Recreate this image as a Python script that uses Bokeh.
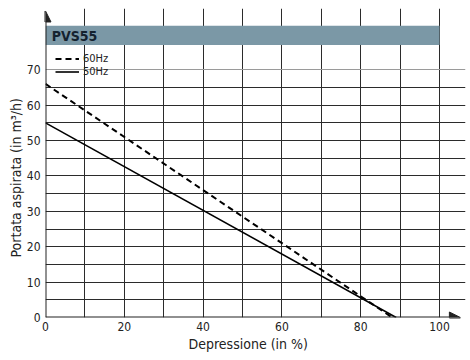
from bokeh.plotting import figure
from bokeh.models import (Range1d, FixedTicker, Grid, BoxAnnotation, Label, Arrow, NormalHead, Title)
from bokeh.embed import file_html
from bokeh.resources import INLINE

# ---- data ----
x_50hz = [0, 89]
y_50hz = [55, 0]
x_60hz = [0, 88]
y_60hz = [66, 0]
x_ticks = [0, 20, 40, 60, 80, 100]
y_ticks = [0, 10, 20, 30, 40, 50, 60, 70]
x_grid = [10, 20, 30, 40, 50, 60, 70, 80, 90, 100]
y_grid = [5, 10, 15, 20, 25, 30, 35, 40, 45, 50, 55, 60, 65]
title_text = "PVS55"
x_label = "Depressione (in %)"
y_label = "Portata aspirata (in m³/h)"

FONT = "DejaVu Sans Condensed, Roboto"
DARK = "#222222"

p = figure(width=470, height=360, output_backend="svg", toolbar_location=None,
           x_range=Range1d(0, 106.6), y_range=Range1d(0, 87.3),
           min_border_left=45, min_border_right=5, min_border_top=8, min_border_bottom=43)
p.outline_line_color = None

# grid
p.xgrid.ticker = FixedTicker(ticks=x_grid)
p.xgrid.bounds = (0, 77)
p.xgrid.grid_line_color = "#2b2b2b"
p.ygrid.ticker = FixedTicker(ticks=y_grid)
p.ygrid.bounds = (0, 100)
p.ygrid.grid_line_color = "#2b2b2b"
p.add_layout(Grid(dimension=1, ticker=FixedTicker(ticks=[70]), bounds=(0, 100),
                  grid_line_color="#9a9a9a"))

# axes
for ax in (p.xaxis[0], p.yaxis[0]):
    ax.axis_line_color = None
    ax.major_tick_line_color = None
    ax.minor_tick_line_color = None
    ax.major_tick_out = 0
    ax.major_tick_in = 0
    ax.minor_tick_out = 0
    ax.minor_tick_in = 0
    ax.major_label_text_font = FONT
    ax.major_label_text_font_size = "12px"
    ax.major_label_text_color = "#222222"
p.xaxis.ticker = FixedTicker(ticks=x_ticks)
p.yaxis.ticker = FixedTicker(ticks=y_ticks)
p.xaxis.major_label_standoff = 4
p.yaxis.major_label_standoff = 5

# axis titles
p.add_layout(Title(text=x_label, align="left", offset=143, text_font=FONT,
                   text_font_size="14px", text_font_style="normal", text_color="#222222",
                   standoff=0), "below")
p.add_layout(Title(text=y_label, align="left", offset=60, text_font=FONT,
                   text_font_size="14px", text_font_style="normal", text_color="#222222",
                   standoff=0), "left")

# header band
p.add_layout(BoxAnnotation(left=0, right=100, bottom=77, top=82.4,
                           fill_color="#7b98a6", fill_alpha=1, line_color=None))
p.add_layout(Label(x=1.6, y=79.6, text=title_text, text_font=FONT, text_font_size="14px",
                   text_font_style="bold", text_baseline="middle", text_color="#14222f"))

# axis arrows
p.add_layout(Arrow(end=NormalHead(size=11, fill_color=DARK, line_color=DARK),
                   x_start=0, y_start=0, x_end=0, y_end=86.6, line_width=2, line_color=DARK))
p.add_layout(Arrow(end=NormalHead(size=11, fill_color=DARK, line_color=DARK),
                   x_start=0, y_start=0, x_end=105.3, y_end=0, line_width=2, line_color=DARK))

# curves
p.line(x_60hz, y_60hz, line_dash="6 4", line_width=2, color="black", legend_label="60Hz")
p.line(x_50hz, y_50hz, line_width=1.6, color="black", legend_label="50Hz")

lg = p.legend[0]
lg.location = (10, 239)
lg.padding = 0
lg.margin = 0
lg.spacing = 0
lg.glyph_height = 13
lg.label_height = 13
lg.glyph_width = 24
lg.label_standoff = 4
lg.background_fill_alpha = 0
lg.border_line_color = None
lg.label_text_font = FONT
lg.label_text_font_size = "11px"
lg.label_text_color = "#222222"

open("out.html", "w").write(file_html(p, INLINE))
